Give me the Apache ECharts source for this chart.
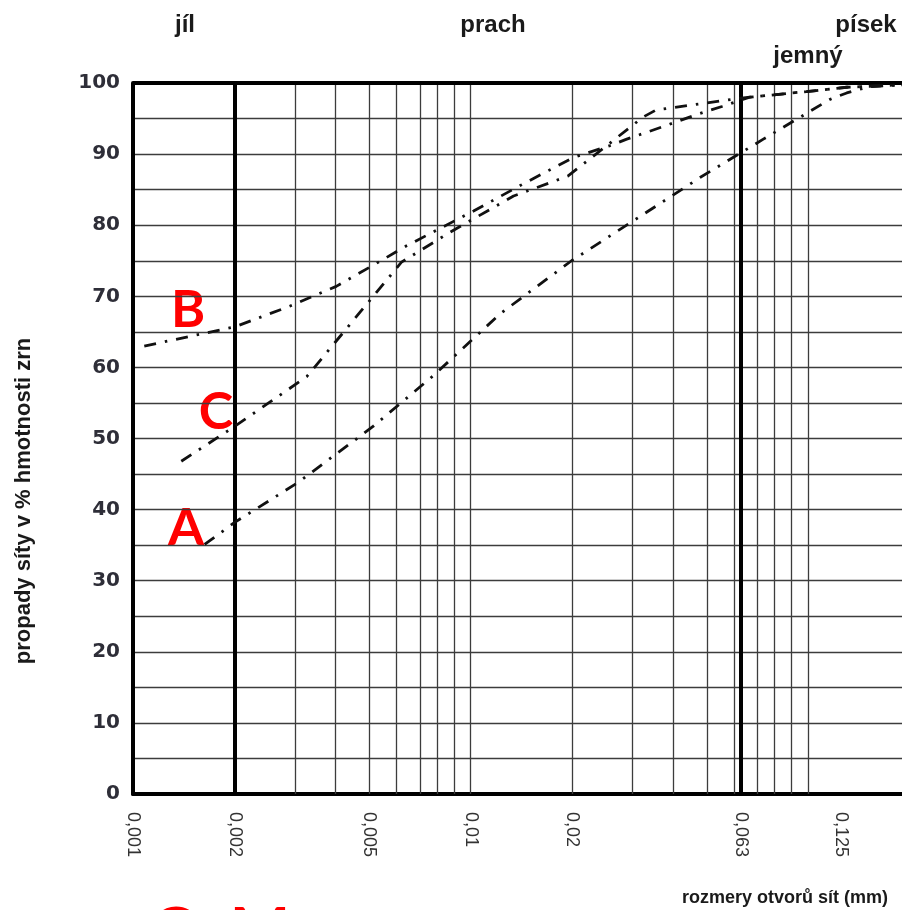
<!DOCTYPE html>
<html>
<head>
<meta charset="utf-8">
<script src="https://cdn.jsdelivr.net/npm/echarts@6/dist/echarts.min.js"></script>
<style>
  html, body { margin: 0; padding: 0; background: #fff; }
  #chart { width: 902px; height: 910px; }
</style>
</head>
<body>
<div id="chart"></div>
<script>
// Grain-size distribution: sieve opening (mm) and percent passing for each sample
const sizesA = [0.00163, 0.002, 0.00308, 0.00514, 0.00774, 0.0122, 0.0199, 0.0303, 0.0478, 0.0736, 0.116, 0.13, 0.152, 0.2];
const passA  = [35.1, 38.2, 43.8, 51.7, 58.8, 67.5, 75.0, 80.6, 86.7, 92.1, 97.7, 98.6, 99.5, 99.8];

const sizesB = [0.00108, 0.002, 0.00291, 0.004, 0.0052, 0.00646, 0.0102, 0.0143, 0.0201, 0.0259, 0.029, 0.0368, 0.047, 0.0555, 0.0671, 0.0989, 0.13, 0.2];
const passB  = [63.0, 65.7, 68.6, 71.4, 74.5, 77.1, 82.0, 85.8, 89.5, 91.2, 92.1, 93.8, 95.6, 96.7, 98.0, 98.8, 99.4, 99.8];

const sizesC = [0.00139, 0.002, 0.00327, 0.00624, 0.00868, 0.0134, 0.0194, 0.0324, 0.0354, 0.0593, 0.0671, 0.0989, 0.13, 0.2];
const passC  = [46.8, 51.7, 58.7, 74.8, 79.0, 84.1, 86.9, 95.2, 96.2, 97.7, 98.0, 98.8, 99.4, 99.8];

// Labelled sieve sizes on the x axis
const tickSizes  = [0.001, 0.002, 0.005, 0.01, 0.02, 0.063, 0.125];
const tickLabels = ['0,001', '0,002', '0,005', '0,01', '0,02', '0,063', '0,125'];

// Thin log-grid lines and the heavy fraction boundaries (clay|silt, silt|sand)
const gridSizes     = [0.003, 0.004, 0.005, 0.006, 0.007, 0.008, 0.009, 0.01,
                       0.02, 0.03, 0.04, 0.05, 0.06, 0.07, 0.08, 0.09, 0.1];
const boundarySizes = [0.002, 0.063];

// Fraction names above the plot
const fractionNames = ['jíl', 'prach', 'písek', 'jemný'];
const sampleNames   = ['A', 'B', 'C'];

const X_MIN = 0.001, X_MAX = 0.1895;
const lg = Math.log10;

const chart = echarts.init(document.getElementById('chart'), null, { renderer: 'canvas' });

const curveStyle = { color: '#111', width: 2.8, type: [12, 9, 2.5, 9], cap: 'butt' };
function curve(name, sizes, pass) {
  return {
    name, type: 'line', z: 5, silent: true, clip: true,
    symbol: 'none', showSymbol: false,
    lineStyle: curveStyle,
    data: sizes.map((d, i) => [lg(d), pass[i]])
  };
}

const thin  = { color: '#3c3c3c', width: 1.3, type: 'solid' };
const heavy = { color: '#000', width: 4, type: 'solid' };

const headFont = { fontFamily: "'Liberation Sans', Arial, sans-serif", fontWeight: 'bold', fill: '#1a1a1a' };
const redFont  = { fontFamily: "Lato, 'Open Sans', sans-serif", fontWeight: 'bold', fill: '#ff0000' };

function txt(text, x, y, size, base, extra) {
  return Object.assign({
    type: 'text', x, y, silent: true,
    style: Object.assign({ text, fontSize: size, align: 'center', verticalAlign: 'middle' }, base)
  }, extra || {});
}

chart.setOption({
  animation: false,
  backgroundColor: '#fff',
  grid: { left: 133, top: 83, width: 769, height: 711 },
  xAxis: {
    type: 'value', min: lg(X_MIN), max: lg(X_MAX),
    axisLine: { show: true, lineStyle: { color: '#000', width: 4 } },
    axisTick: { show: false },
    splitLine: { show: false },
    axisLabel: {
      customValues: tickSizes.map(lg),
      formatter: v => {
        const i = tickSizes.findIndex(d => Math.abs(lg(d) - v) < 1e-6);
        return i >= 0 ? tickLabels[i] : '';
      },
      rotate: -90, margin: 18,
      fontFamily: "'Liberation Sans', Arial, sans-serif", fontSize: 18, color: '#333'
    }
  },
  yAxis: {
    type: 'value', min: 0, max: 100, interval: 5,
    axisLine: { show: true, onZero: false, lineStyle: { color: '#000', width: 4 } },
    axisTick: { show: false },
    splitLine: { show: true, lineStyle: thin },
    axisLabel: {
      formatter: v => (v % 10 === 0 ? String(v) : ''),
      margin: 13,
      fontFamily: "'DejaVu Sans', sans-serif", fontWeight: 'bold', fontSize: 20, color: '#2e2e38'
    }
  },
  series: [
    {
      type: 'line', data: [], z: 2, silent: true,
      markLine: {
        silent: true, symbol: ['none', 'none'], label: { show: false }, animation: false,
        data: [
          ...gridSizes.map(d => ({ xAxis: lg(d), lineStyle: thin })),
          ...boundarySizes.map(d => ({ xAxis: lg(d), lineStyle: heavy })),
          { yAxis: 100, lineStyle: heavy }
        ]
      }
    },
    curve('A', sizesA, passA),
    curve('B', sizesB, passB),
    curve('C', sizesC, passC)
  ],
  graphic: [
    txt(fractionNames[0], 185, 25, 24, headFont),
    txt(fractionNames[1], 493, 25, 24, headFont),
    txt(fractionNames[2], 866, 25, 24, headFont),
    txt(fractionNames[3], 808, 56, 24, headFont),
    txt('rozmery otvorů sít (mm)', 785, 898, 18, headFont),
    txt('propady síty v % hmotnosti zrn', 24, 501, 22, headFont, { rotation: Math.PI / 2 }),
    txt(sampleNames[1], 188, 310, 52, redFont),
    txt(sampleNames[2], 216, 412, 52, redFont),
    txt(sampleNames[0], 186, 528, 52, redFont),
    txt('O', 176, 932, 64, redFont),
    txt('M', 260, 932, 64, redFont)
  ]
});
</script>
</body>
</html>
